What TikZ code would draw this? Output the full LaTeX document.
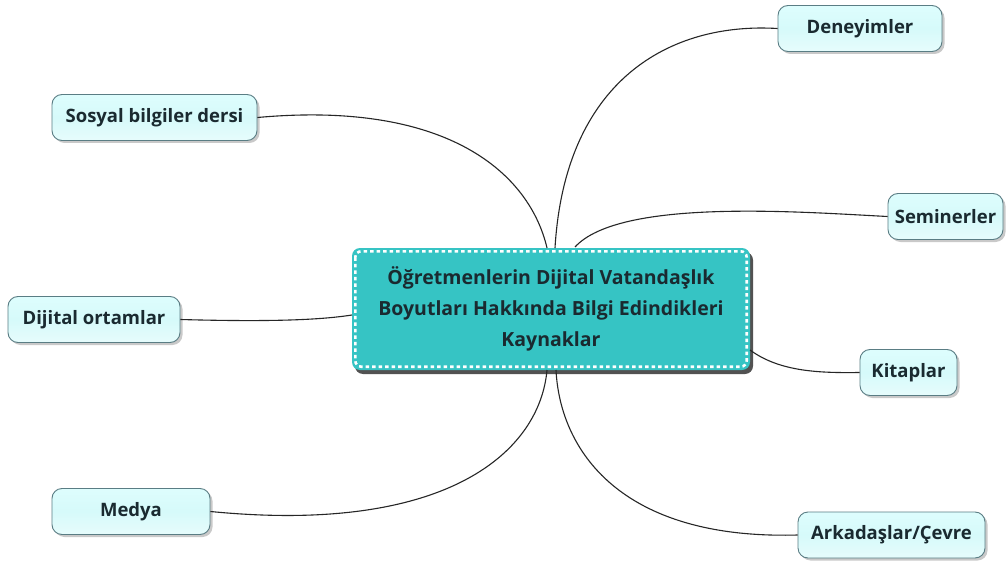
\documentclass[tikz,border=0pt]{standalone}
\usepackage{fontspec}
\setmainfont{Open Sans}
\usetikzlibrary{shadows}
\definecolor{leaffill}{HTML}{D6FAFA}
\definecolor{leafdraw}{HTML}{5A7D84}
\definecolor{centerfill}{HTML}{36C4C4}
\definecolor{textcol}{HTML}{1A2A30}
\tikzset{
  leaf/.style={rectangle, rounded corners=10pt, draw=leafdraw, line width=0.9pt,
    top color=leaffill!80!cyan!40, bottom color=leaffill!60!white, middle color=leaffill,
    text=textcol, font=\fontsize{18.5}{22}\selectfont\bfseries, inner sep=0pt,
    minimum height=46pt, drop shadow={shadow xshift=2.5pt, shadow yshift=-2.5pt, fill=black!35, opacity=0.6}},
  hub/.style={rectangle, rounded corners=8pt, fill=centerfill, text=textcol,
    font=\fontsize{19.5}{31}\selectfont\bfseries, align=center, inner sep=0pt,
    minimum width=398pt, minimum height=122pt,
    drop shadow={shadow xshift=3pt, shadow yshift=-4pt, fill=black!75, opacity=0.9}},
  link/.style={line width=1.1pt, draw=black!85},
}
\begin{document}
\begin{tikzpicture}[x=1pt,y=-1pt]
\useasboundingbox (0,0) rectangle (1007,567);
\fill[white] (0,0) rectangle (1007,567);
% central node
\node[hub] (c) at (551,309) {Öğretmenlerin Dijital Vatandaşlık\\Boyutları Hakkında Bilgi Edindikleri\\Kaynaklar};
\draw[white, line width=2.6pt, dash pattern=on 3.5pt off 3pt, rounded corners=6pt]
  ([shift={(3.5,3.5)}]c.north west) rectangle ([shift={(-3.5,-3.5)}]c.south east);
% leaves
\node[leaf, minimum width=205pt] (sos) at (154.5,117.5) {Sosyal bilgiler dersi};
\node[leaf, minimum width=164pt] (den) at (860,28.5) {Deneyimler};
\node[leaf, minimum width=115pt] (sem) at (945.5,216.5) {Seminerler};
\node[leaf, minimum width=172pt] (dij) at (94,319.5) {Dijital ortamlar};
\node[leaf, minimum width=97pt] (kit) at (908.5,372.5) {Kitaplar};
\node[leaf, minimum width=158pt] (med) at (131,511.5) {Medya};
\node[leaf, minimum width=187pt] (ark) at (891.5,535) {Arkadaşlar/Çevre};
% anchor coordinates on the hub
\coordinate (t1) at (547,248);
\coordinate (t2) at (555,248);
\coordinate (t3) at (575,247);
\coordinate (b1) at (547,370);
\coordinate (b2) at (556,370);
\coordinate (r1) at (750,350);
\coordinate (l1) at (352,315);
% connectors
\draw[link] (sos.east) .. controls (450,100) and (530,175) .. (t1);
\draw[link] (den.west) .. controls (670,22) and (565,80) .. (t2);
\draw[link] (sem.west) .. controls (800,212) and (620,198) .. (t3);
\draw[link] (dij.east) .. controls (270,322) and (320,320) .. (l1);
\draw[link] (kit.west) .. controls (820,373) and (780,372) .. (r1);
\draw[link] (med.east) .. controls (450,535) and (540,450) .. (b1);
\draw[link] (ark.west) .. controls (620,540) and (560,450) .. (b2);
\end{tikzpicture}
\end{document}
